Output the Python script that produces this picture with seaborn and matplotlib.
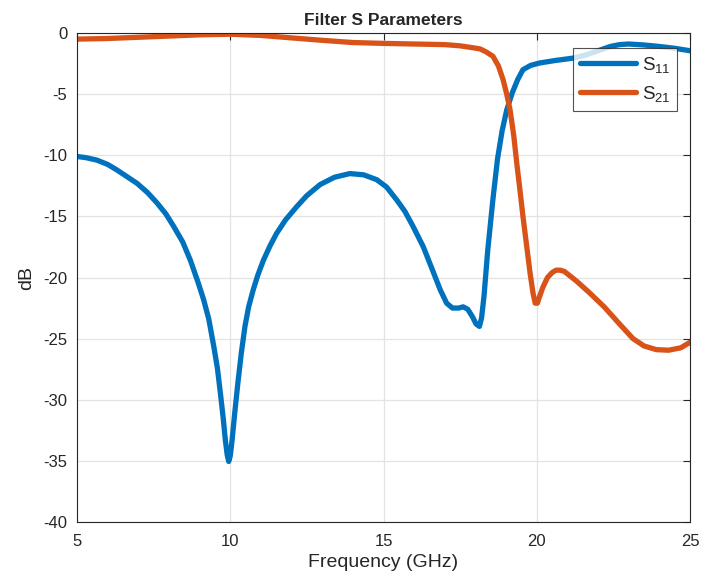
import numpy as np
import pandas as pd
import seaborn as sns
import matplotlib.pyplot as plt

# ---- datos ----
freq_s11 = [5, 5.3, 5.65, 6.0, 6.3, 6.6, 6.96, 7.3, 7.61, 7.9, 8.15, 8.45, 8.7, 8.95,
            9.13, 9.3, 9.46, 9.58, 9.68, 9.77, 9.84, 9.9, 9.95, 10.0, 10.06, 10.15,
            10.25, 10.36, 10.48, 10.6, 10.75, 10.9, 11.08, 11.3, 11.51, 11.8, 12.17,
            12.5, 12.93, 13.4, 13.9, 14.35, 14.78, 15.1, 15.43, 15.7, 15.96, 16.3,
            16.6, 16.85, 17.06, 17.25, 17.45, 17.6, 17.75, 17.9, 18.02, 18.13, 18.2,
            18.28, 18.4, 18.57, 18.72, 18.87, 19.02, 19.2, 19.38, 19.55, 19.8, 20.1,
            20.6, 21.2, 21.6, 22.06, 22.4, 22.7, 23.0, 23.5, 24.0, 24.5, 25]
s11 = [-10.1, -10.2, -10.4, -10.75, -11.2, -11.7, -12.3, -13.05, -13.9, -14.8, -15.8,
       -17.1, -18.6, -20.4, -21.8, -23.4, -25.6, -27.4, -29.5, -31.5, -33.3, -34.5,
       -35.05, -34.6, -33.3, -31.0, -28.6, -26.2, -24.0, -22.4, -21.0, -19.8, -18.6,
       -17.4, -16.4, -15.3, -14.2, -13.3, -12.4, -11.8, -11.5, -11.6, -12.0, -12.6,
       -13.65, -14.6, -15.8, -17.5, -19.4, -21.0, -22.1, -22.5, -22.5, -22.4, -22.6,
       -23.2, -23.8, -24.0, -23.3, -21.5, -17.8, -13.6, -10.3, -8.0, -6.3, -4.9,
       -3.8, -3.0, -2.65, -2.45, -2.25, -2.05, -1.8, -1.4, -1.1, -0.95, -0.9, -0.98,
       -1.1, -1.25, -1.45]

freq_s21 = [5, 6, 7, 8, 9, 10, 11, 12, 13, 14, 15, 16, 17, 17.5, 17.9, 18.15, 18.35,
            18.57, 18.75, 18.9, 19.02, 19.13, 19.25, 19.35, 19.45, 19.55, 19.67, 19.78,
            19.88, 19.95, 20.02, 20.1, 20.2, 20.35, 20.5, 20.63, 20.76, 20.9, 21.05,
            21.3, 21.7, 22.2, 22.7, 23.14, 23.5, 23.9, 24.3, 24.7, 25]
s21 = [-0.5, -0.45, -0.35, -0.25, -0.15, -0.1, -0.2, -0.4, -0.6, -0.78, -0.85, -0.9,
       -0.95, -1.05, -1.2, -1.3, -1.55, -1.9, -2.7, -3.8, -5.0, -6.3, -8.4, -10.7,
       -12.8, -15.0, -17.4, -19.6, -21.3, -22.1, -22.1, -21.5, -20.8, -20.0, -19.6,
       -19.4, -19.4, -19.5, -19.8, -20.3, -21.2, -22.4, -23.8, -25.0, -25.6, -25.9,
       -25.95, -25.75, -25.3]

COLOR_S11 = "#0072BD"
COLOR_S21 = "#D95319"

df = pd.concat([
    pd.DataFrame({"freq": freq_s11, "dB": s11, "serie": "S$_{11}$"}),
    pd.DataFrame({"freq": freq_s21, "dB": s21, "serie": "S$_{21}$"}),
])

sns.set_style("white")
plt.rcParams["font.family"] = ["Liberation Sans", "DejaVu Sans"]
plt.rcParams["mathtext.fontset"] = "custom"
plt.rcParams["mathtext.rm"] = "Liberation Sans"
plt.rcParams["mathtext.it"] = "Liberation Sans"
plt.rcParams["axes.unicode_minus"] = False

fig = plt.figure(figsize=(7.03, 5.82), dpi=100)
ax = fig.add_axes([77 / 703, 60 / 582, 613 / 703, 489 / 582])

sns.lineplot(data=df, x="freq", y="dB", hue="serie", sort=False, estimator=None,
             palette={"S$_{11}$": COLOR_S11, "S$_{21}$": COLOR_S21},
             linewidth=3.8, ax=ax, solid_joinstyle="round", solid_capstyle="round")

ax.set_xlim(5, 25)
ax.set_ylim(-40, 0)
ax.set_xticks(range(5, 26, 5))
ax.set_yticks(range(-40, 1, 5))
ax.grid(True, color="#e3e3e3", linewidth=0.9)
ax.tick_params(direction="in", length=5, width=0.8, colors="#262626",
               labelsize=12, top=True, right=True)
ax.tick_params(axis="x", pad=9)
ax.tick_params(axis="y", pad=7)
for s in ax.spines.values():
    s.set_color("#262626")
    s.set_linewidth(0.8)

ax.set_xlabel("Frequency (GHz)", fontsize=14, color="#262626", labelpad=3)
ax.set_ylabel("dB", fontsize=14, color="#262626", labelpad=6)
ax.set_title("Filter S Parameters", fontsize=12.5, fontweight="bold", pad=6)

leg = ax.legend(loc="upper right", bbox_to_anchor=(600 / 613, 474 / 489), fontsize=13.5,
                frameon=True, fancybox=False, handlelength=3.0, borderpad=0.35,
                labelspacing=0.5, handletextpad=0.3, borderaxespad=0)
leg.get_frame().set_edgecolor("#262626")
leg.get_frame().set_linewidth(0.8)
for line in leg.get_lines():
    line.set_linewidth(3.8)

fig.savefig("out.png", dpi=100)
